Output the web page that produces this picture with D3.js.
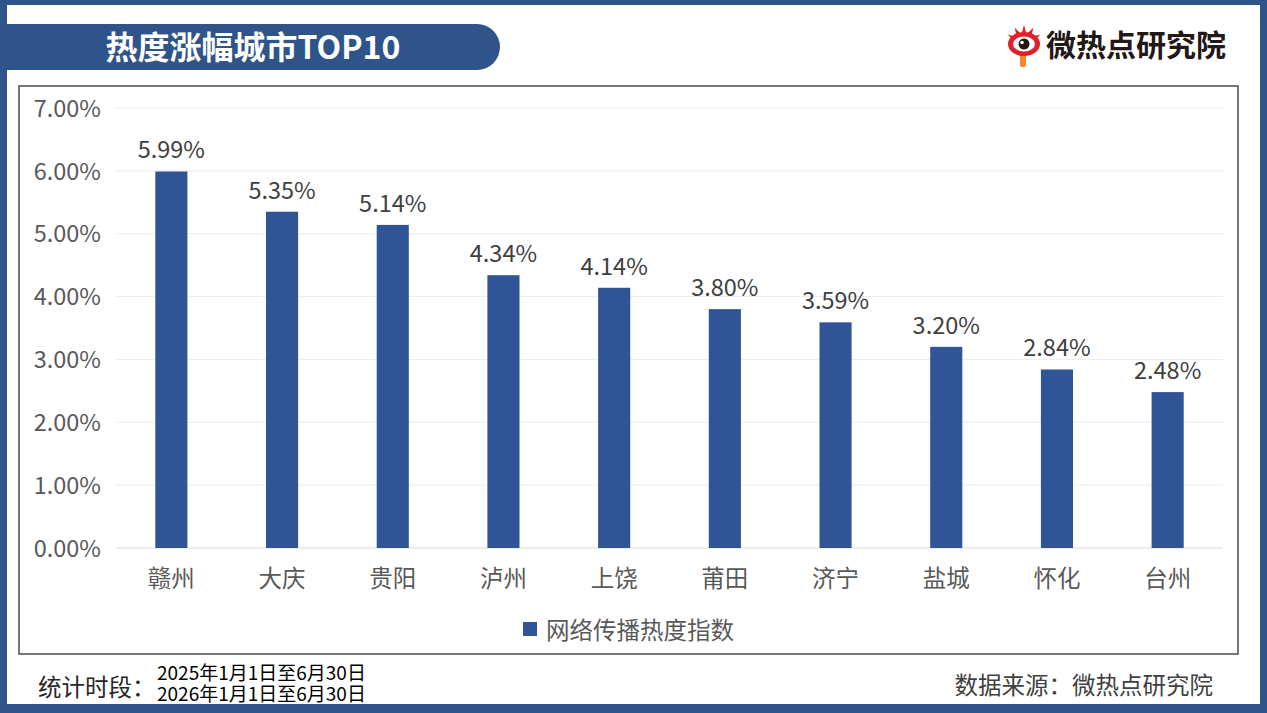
<!DOCTYPE html>
<html>
<head>
<meta charset="utf-8">
<script src="https://cdn.jsdelivr.net/npm/d3@7"></script>
<style>
  body { margin: 0; background: #fff; }
  text { font-family: "Noto Sans CJK SC", "Microsoft YaHei", sans-serif; }
</style>
</head>
<body>
<div id="chart"></div>
<script>
var width = 1267, height = 713;

var cities = ["赣州", "大庆", "贵阳", "泸州", "上饶", "莆田", "济宁", "盐城", "怀化", "台州"];
var values = [5.99, 5.35, 5.14, 4.34, 4.14, 3.80, 3.59, 3.20, 2.84, 2.48];
var yTicks = [0, 1, 2, 3, 4, 5, 6, 7];
var seriesName = "网络传播热度指数";
var periods = ["2025年1月1日至6月30日", "2026年1月1日至6月30日"];

var blue = "#2E5489";
var barColor = "#2F5597";
var fs = 23.5;

var svg = d3.select("#chart").append("svg").attr("width", width).attr("height", height);

// frame
svg.append("rect").attr("width", width).attr("height", height).attr("fill", blue);
svg.append("rect").attr("x", 7).attr("y", 5).attr("width", 1253).attr("height", 699).attr("fill", "#fff");

// title banner, rounded at the right end
var bx0 = 7, bx1 = 500, by0 = 24, by1 = 70, r = (by1 - by0) / 2;
svg.append("path")
  .attr("d", "M" + bx0 + "," + by0 + " H" + (bx1 - r) + " A" + r + "," + r + " 0 0 1 " + (bx1 - r) + "," + by1 + " H" + bx0 + " Z")
  .attr("fill", blue);
svg.append("text").attr("x", 253).attr("y", 59).attr("text-anchor", "middle")
  .attr("fill", "#fff").attr("font-size", 32).attr("font-weight", "bold")
  .text("热度涨幅城市TOP10");

// logo
var logo = svg.append("g").attr("transform", "translate(1024,44)");
logo.append("rect").attr("x", -4).attr("y", 6).attr("width", 6).attr("height", 17).attr("rx", 2).attr("fill", "#F08A2C");
var spikes = d3.range(5).map(function(i){ return -150 + i * 30; });
spikes.forEach(function(a){
  var rad = a * Math.PI / 180;
  logo.append("path")
    .attr("d", "M" + (10 * Math.cos(rad - 0.25)) + "," + (10 * Math.sin(rad - 0.25)) +
               " L" + (19 * Math.cos(rad)) + "," + (19 * Math.sin(rad)) +
               " L" + (10 * Math.cos(rad + 0.25)) + "," + (10 * Math.sin(rad + 0.25)) + " Z")
    .attr("fill", "#E0202A");
});
logo.append("ellipse").attr("rx", 16).attr("ry", 12).attr("fill", "#E0202A");
logo.append("ellipse").attr("rx", 11).attr("ry", 7.5).attr("fill", "#fff");
logo.append("circle").attr("r", 5.5).attr("fill", "#231815");
logo.append("circle").attr("cx", -2).attr("cy", -1.5).attr("r", 1.8).attr("fill", "#fff");
svg.append("text").attr("x", 1046).attr("y", 56).attr("fill", "#231815")
  .attr("font-size", 30).attr("font-weight", "bold")
  .text("微热点研究院");

// chart box
svg.append("rect").attr("x", 19).attr("y", 86).attr("width", 1219).attr("height", 568)
  .attr("fill", "#fff").attr("stroke", "#4a4a4a").attr("stroke-width", 1.5);

// scales
var x = d3.scaleBand().domain(cities).range([116, 1223]).paddingInner(0.71).paddingOuter(0.355);
var y = d3.scaleLinear().domain([0, 7]).range([548, 108]);

// gridlines
svg.append("g").selectAll("line").data(yTicks).join("line")
  .attr("x1", 116).attr("x2", 1223)
  .attr("y1", function(d){ return y(d); }).attr("y2", function(d){ return y(d); })
  .attr("stroke", function(d){ return d === 0 ? "#d9d9d9" : "#ececec"; }).attr("stroke-width", 1);

// y axis labels
var yAxis = svg.append("g").attr("transform", "translate(101,0)")
  .call(d3.axisLeft(y).tickValues(yTicks).tickSize(0).tickPadding(0)
    .tickFormat(function(d){ return d3.format(".2f")(d) + "%"; }));
yAxis.select(".domain").remove();
yAxis.selectAll("text").attr("font-size", fs).attr("fill", "#595959")
  .style("font-family", "\"Noto Sans CJK SC\", sans-serif").attr("dy", "0.35em");

// bars
svg.append("g").selectAll("rect").data(values).join("rect")
  .attr("x", function(d, i){ return x(cities[i]); })
  .attr("y", function(d){ return y(d); })
  .attr("width", x.bandwidth())
  .attr("height", function(d){ return y(0) - y(d); })
  .attr("fill", barColor);

// value labels
svg.append("g").selectAll("text").data(values).join("text")
  .attr("x", function(d, i){ return x(cities[i]) + x.bandwidth() / 2; })
  .attr("y", function(d){ return y(d) - 13; })
  .attr("text-anchor", "middle").attr("font-size", fs).attr("fill", "#404040")
  .text(function(d){ return d3.format(".2f")(d) + "%"; });

// x axis labels
var xAxis = svg.append("g").attr("transform", "translate(0,548)")
  .call(d3.axisBottom(x).tickSize(0).tickPadding(0));
xAxis.select(".domain").remove();
xAxis.selectAll("text").attr("font-size", fs).attr("fill", "#595959")
  .style("font-family", "\"Noto Sans CJK SC\", sans-serif").attr("dy", "1.65em");

// legend
svg.append("rect").attr("x", 523).attr("y", 622).attr("width", 14).attr("height", 14).attr("fill", barColor);
svg.append("text").attr("x", 546).attr("y", 639).attr("font-size", fs).attr("fill", "#595959").text(seriesName);

// footer
svg.append("text").attr("x", 38).attr("y", 696).attr("font-size", fs).attr("fill", "#262626").text("统计时段：");
svg.append("g").selectAll("text").data(periods).join("text")
  .attr("x", 157).attr("y", function(d, i){ return 680 + i * 21; })
  .attr("font-size", 19).attr("fill", "#000").text(function(d){ return d; });
svg.append("text").attr("x", 1213).attr("y", 694).attr("text-anchor", "end")
  .attr("font-size", fs).attr("fill", "#404040").text("数据来源：微热点研究院");
</script>
</body>
</html>
